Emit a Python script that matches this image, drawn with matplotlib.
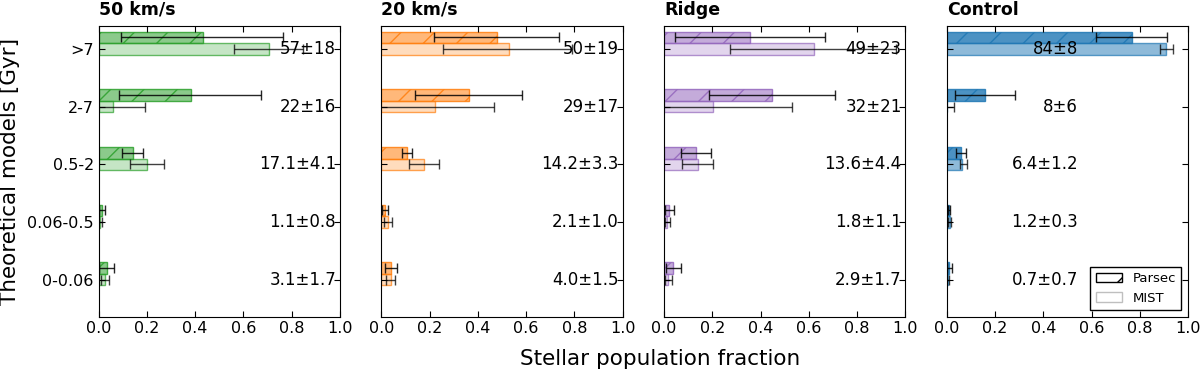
import numpy as np
import matplotlib
matplotlib.use("Agg")
import matplotlib.pyplot as plt
from matplotlib.colors import to_rgba
from matplotlib.patches import Patch

# categories, top to bottom
ages = [">7", "2-7", "0.5-2", "0.06-0.5", "0-0.06"]
titles = ["50 km/s", "20 km/s", "Ridge", "Control"]
colors = ["#2ca02c", "#ff7f0e", "#9467bd", "#1f77b4"]

# Parsec fractions + lower / upper ends of the error bars
parsec_50 = [0.431, 0.382, 0.141, 0.015, 0.034]
parsec_50_lo = [0.093, 0.084, 0.098, 0.003, 0.001]
parsec_50_hi = [0.766, 0.673, 0.185, 0.027, 0.063]
parsec_20 = [0.479, 0.362, 0.108, 0.014, 0.039]
parsec_20_lo = [0.219, 0.141, 0.086, 0.003, 0.015]
parsec_20_hi = [0.737, 0.581, 0.127, 0.026, 0.064]
parsec_ridge = [0.357, 0.447, 0.133, 0.022, 0.039]
parsec_ridge_lo = [0.046, 0.185, 0.072, 0.003, 0.010]
parsec_ridge_hi = [0.668, 0.707, 0.194, 0.041, 0.070]
parsec_ctrl = [0.766, 0.160, 0.061, 0.008, 0.010]
parsec_ctrl_lo = [0.617, 0.033, 0.040, 0.004, 0.001]
parsec_ctrl_hi = [0.911, 0.282, 0.079, 0.012, 0.023]

# MIST fractions
mist_50 = [0.707, 0.061, 0.202, 0.005, 0.028]
mist_50_lo = [0.561, -0.07, 0.130, -0.005, 0.011]
mist_50_hi = [0.849, 0.193, 0.270, 0.015, 0.043]
mist_20 = [0.528, 0.223, 0.178, 0.029, 0.041]
mist_20_lo = [0.257, -0.023, 0.114, 0.010, 0.020]
mist_20_hi = [0.790, 0.469, 0.241, 0.044, 0.058]
mist_ridge = [0.621, 0.202, 0.140, 0.014, 0.018]
mist_ridge_lo = [0.275, -0.13, 0.075, 0.002, 0.003]
mist_ridge_hi = [0.960, 0.532, 0.202, 0.026, 0.032]
mist_ctrl = [0.909, 0.002, 0.065, 0.012, 0.003]
mist_ctrl_lo = [0.884, -0.025, 0.054, 0.007, -0.004]
mist_ctrl_hi = [0.939, 0.029, 0.084, 0.019, 0.010]

# percentages written in each panel
labels_50 = ["57±18", "22±16", "17.1±4.1", "1.1±0.8", "3.1±1.7"]
labels_20 = ["50±19", "29±17", "14.2±3.3", "2.1±1.0", "4.0±1.5"]
labels_ridge = ["49±23", "32±21", "13.6±4.4", "1.8±1.1", "2.9±1.7"]
labels_ctrl = ["84±8", "8±6", "6.4±1.2", "1.2±0.3", "0.7±0.7"]

panels = [
    (parsec_50, parsec_50_lo, parsec_50_hi, mist_50, mist_50_lo, mist_50_hi, labels_50),
    (parsec_20, parsec_20_lo, parsec_20_hi, mist_20, mist_20_lo, mist_20_hi, labels_20),
    (parsec_ridge, parsec_ridge_lo, parsec_ridge_hi, mist_ridge, mist_ridge_lo, mist_ridge_hi, labels_ridge),
    (parsec_ctrl, parsec_ctrl_lo, parsec_ctrl_hi, mist_ctrl, mist_ctrl_lo, mist_ctrl_hi, labels_ctrl),
]

plt.rcParams["xtick.direction"] = "in"
plt.rcParams["ytick.direction"] = "in"
plt.rcParams["xtick.top"] = True
plt.rcParams["ytick.right"] = True
plt.rcParams["xtick.major.size"] = 4
plt.rcParams["ytick.major.size"] = 4
plt.rcParams["hatch.linewidth"] = 1.0

fig, axes = plt.subplots(1, 4, figsize=(12, 3.76), dpi=100)
fig.subplots_adjust(left=0.0822, right=0.990, top=0.931, bottom=0.158, wspace=0.172)

y = np.arange(len(ages))[::-1]
h = 0.2

for k, ax in enumerate(axes):
    p, plo, phi, m, mlo, mhi, labs = panels[k]
    p = np.array(p)
    m = np.array(m)
    c = colors[k]
    # control panel is drawn stronger
    if k == 3:
        a_p, a_m = 0.8, 0.5
    else:
        a_p, a_m = 0.55, 0.27

    ax.barh(y + h, p, height=h, facecolor=to_rgba(c, a_p),
            edgecolor=to_rgba(c, 0.85), hatch="/", linewidth=1)
    ax.barh(y, m, height=h, facecolor=to_rgba(c, a_m),
            edgecolor=to_rgba(c, 0.7), linewidth=1)

    ax.errorbar(p, y + h, xerr=[p - np.array(plo), np.array(phi) - p], fmt="none",
                ecolor="k", elinewidth=1, capsize=3.5, capthick=1, alpha=0.85)
    ax.errorbar(m, y, xerr=[m - np.array(mlo), np.array(mhi) - m], fmt="none",
                ecolor="k", elinewidth=1, capsize=3.5, capthick=1, alpha=0.75)

    xt = 0.985 if k < 3 else 0.545
    for j in range(len(ages)):
        ax.text(xt, y[j], labs[j], ha="right", va="center", fontsize=12)

    ax.set_xlim(0, 1)
    ax.set_ylim(-0.64, 4.4)
    ax.set_xticks([0, 0.2, 0.4, 0.6, 0.8, 1.0])
    ax.set_yticks(y)
    if k == 0:
        ax.set_yticklabels(ages)
        ax.set_ylabel("Theoretical models [Gyr]", fontsize=15.5, labelpad=5)
    else:
        ax.set_yticklabels([])
    ax.tick_params(labelsize=11.5)
    ax.set_title(titles[k], loc="left", fontweight="bold", fontsize=12.5, pad=8)

legend_handles = [Patch(facecolor="white", edgecolor="k", hatch="/", label="Parsec"),
                  Patch(facecolor="white", edgecolor=to_rgba("k", 0.25), label="MIST")]
leg = axes[3].legend(handles=legend_handles, loc="lower right", fontsize=9.5,
                     fancybox=False, framealpha=1)
leg.get_frame().set_edgecolor("k")

fig.text(0.55, 0.03, "Stellar population fraction", ha="center", va="baseline", fontsize=15.5)

plt.savefig("out.png", dpi=100)
